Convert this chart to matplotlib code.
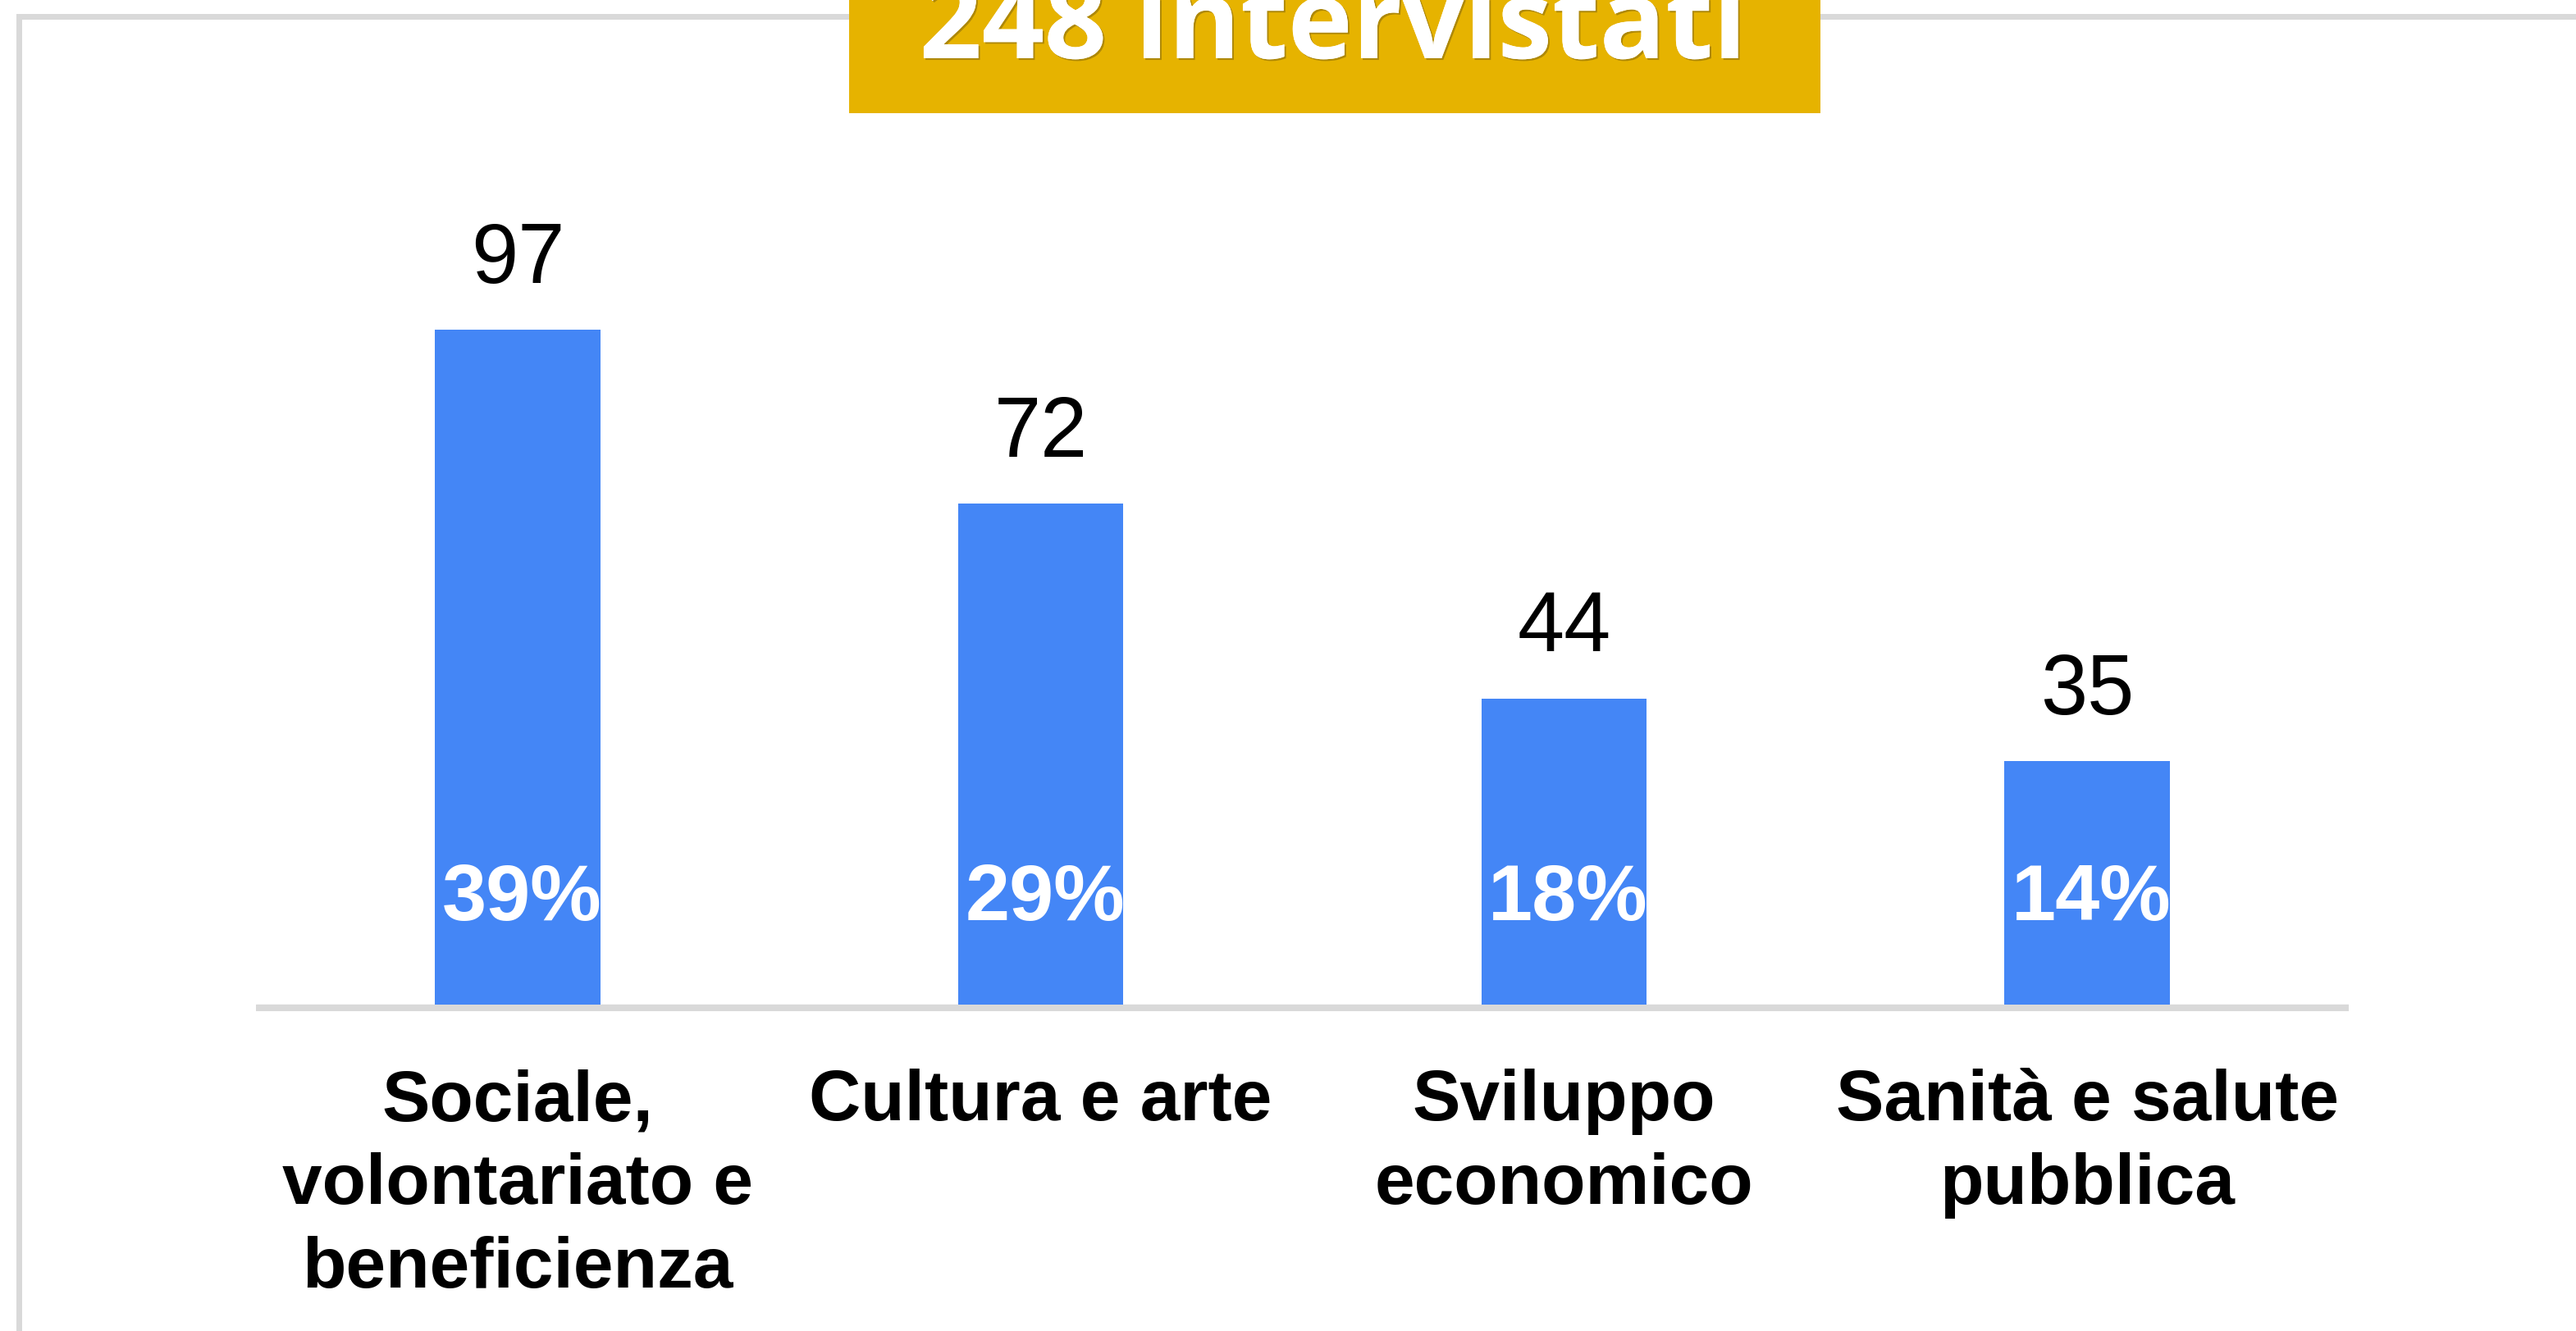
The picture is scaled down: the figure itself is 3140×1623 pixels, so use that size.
import matplotlib
matplotlib.use('Agg')
import matplotlib.pyplot as plt
import matplotlib.patheffects as pe
from matplotlib.patches import Rectangle

# Data
categories = ['Sociale,\nvolontariato e\nbeneficienza', 'Cultura e arte',
              'Sviluppo\neconomico', 'Sanità e salute\npubblica']
counts = [97, 72, 44, 35]
percents = [39, 29, 18, 14]
title = '248 intervistati'

W, H = 3140, 1624
fig = plt.figure(figsize=(W / 100, H / 100), dpi=100)
fig.patch.set_facecolor('white')

# Grey frame (top and left edges)
grey = '#d9d9d9'
fig.add_artist(Rectangle((20 / W, 1 - 25 / H), 1, 7 / H, transform=fig.transFigure,
                         facecolor=grey, edgecolor='none', zorder=1))
fig.add_artist(Rectangle((20 / W, 0), 7 / W, 1 - 18 / H, transform=fig.transFigure,
                         facecolor=grey, edgecolor='none', zorder=1))

# Gold title box (title text is cut by the top edge, as in the original)
fig.add_artist(Rectangle((1035 / W, 1 - 139 / H), 1184 / W, 200 / H, transform=fig.transFigure,
                         facecolor='#E6B300', edgecolor='none', zorder=2))
fig.text(1625 / W, 1 - 72 / H, title, ha='center', va='baseline', color='white',
         fontsize=96, fontweight='bold', family='Open Sans', zorder=3,
         path_effects=[pe.withSimplePatchShadow(offset=(1.5, -1.5), shadow_rgbFace='#6b5510', alpha=0.45),
                       pe.Normal()])

# Axes: data 0 sits at pixel 1226, 8.485 px per unit
px_per_unit = 8.485
ax_left, ax_right = 312, 2863
ax_bottom, ax_top = 1234, 100
ax = fig.add_axes([ax_left / W, 1 - ax_bottom / H, (ax_right - ax_left) / W, (ax_bottom - ax_top) / H])
ax.set_xlim(-0.5, len(counts) - 0.5)
ax.set_ylim(-(ax_bottom - 1226) / px_per_unit, (1226 - ax_top) / px_per_unit)
for s in ax.spines.values():
    s.set_visible(False)
ax.set_facecolor('none')
ax.set_yticks([])

x = range(len(counts))
ax.bar(x, counts, width=0.316, color='#4486F6', zorder=3)
ax.axhspan(ax.get_ylim()[0], 0, color=grey, zorder=2)

for i, (c, p) in enumerate(zip(counts, percents)):
    ax.annotate(str(c), (i, c), xytext=(0, 42), textcoords='offset points',
                ha='center', va='baseline', fontsize=74, family='Liberation Sans', color='black')
    ax.text(i + 0.008, 104 / px_per_unit, f'{p}%', ha='center', va='baseline',
            fontsize=70, fontweight='bold', family='Liberation Sans', color='white', zorder=4)

ax.set_xticks(list(x))
ax.set_xticklabels(categories, fontsize=63, fontweight='bold', family='Liberation Sans',
                   linespacing=1.33)
ax.tick_params(axis='x', length=0, pad=50)

fig.savefig('out.png', dpi=100, facecolor='white')
